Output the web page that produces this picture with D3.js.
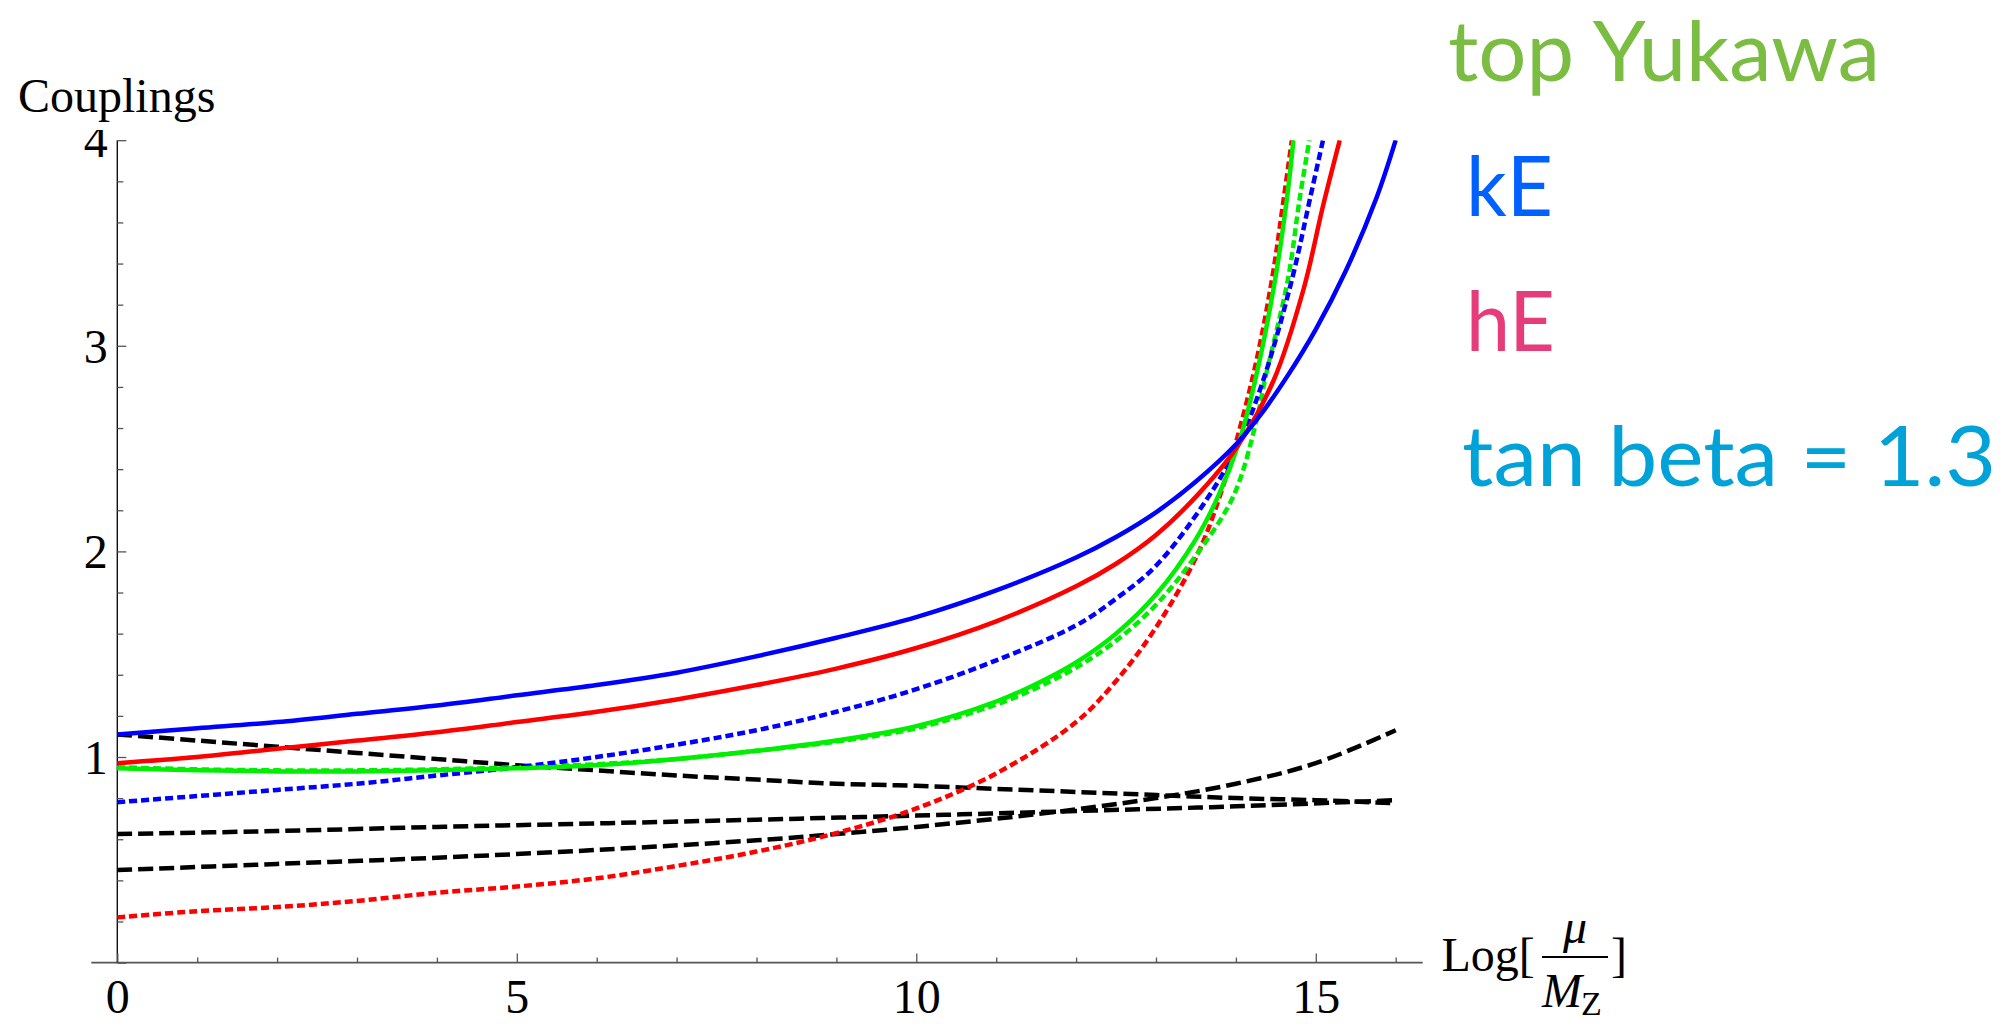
<!DOCTYPE html>
<html>
<head>
<meta charset="utf-8">
<script src="https://cdn.jsdelivr.net/npm/d3@7"></script>
<style>
  html, body { margin: 0; padding: 0; background: #fff; }
  svg { display: block; }
</style>
</head>
<body>
<svg id="chart" width="2009" height="1024"></svg>
<script>
// ---------------- data ----------------
const xTickLabels = [0, 5, 10, 15];
const yTickLabels = [1, 2, 3, 4];
const xMinorTicks = d3.range(0, 17, 1);
const yMinorTicks = d3.range(0, 4.01, 0.2).map(v => +v.toFixed(1));

const blueSolid = [[0,1.11],[1,1.14],[2,1.17],[3,1.21],[4,1.25],[5,1.30],[6,1.35],[7,1.41],[8,1.49],[9,1.58],[10,1.68],[11,1.81],[12,1.97],[12.5,2.07],[13,2.19],[13.5,2.34],[14,2.52],[14.3,2.66],[14.64,2.85],[15,3.08],[15.37,3.36],[15.76,3.72],[16,4.0]];
const redSolid = [[0,0.97],[1,1.0],[2,1.04],[3,1.08],[4,1.12],[5,1.17],[6,1.22],[7,1.28],[8,1.35],[9,1.43],[10,1.53],[11,1.66],[12,1.83],[12.5,1.94],[13,2.08],[13.51,2.27],[14,2.50],[14.47,2.83],[14.85,3.28],[15.09,3.68],[15.30,4.0]];
const greenSolid = [[0,0.945],[1,0.935],[2,0.93],[3,0.93],[4,0.935],[5,0.945],[6,0.96],[7,0.99],[8,1.03],[9,1.08],[10,1.15],[11,1.27],[11.5,1.355],[12,1.46],[12.5,1.60],[13,1.79],[13.5,2.06],[13.78,2.27],[14.03,2.52],[14.24,2.83],[14.49,3.32],[14.64,3.72],[14.72,4.0]];
const greenDotted = [[0,0.95],[1,0.94],[2,0.935],[3,0.935],[4,0.94],[5,0.95],[6,0.965],[7,0.99],[8,1.03],[9,1.075],[10,1.14],[11,1.255],[11.5,1.335],[12,1.435],[12.5,1.565],[13,1.74],[13.5,1.98],[13.97,2.27],[14.26,2.64],[14.36,2.83],[14.65,3.32],[14.80,3.72],[14.92,4.0]];
const blueDotted = [[0,0.78],[1,0.81],[2,0.84],[3,0.87],[4,0.91],[5,0.95],[6,1.0],[7,1.06],[8,1.13],[9,1.22],[10,1.33],[11,1.47],[12,1.64],[12.5,1.77],[13,1.93],[13.63,2.25],[14.03,2.52],[14.34,2.83],[14.70,3.32],[14.93,3.72],[15.09,4.0]];
const redDotted = [[0,0.22],[1,0.25],[2,0.27],[3,0.30],[4,0.34],[5,0.37],[6,0.41],[7,0.47],[8,0.54],[9,0.63],[10,0.75],[11,0.92],[12,1.17],[12.5,1.37],[13,1.63],[13.5,1.97],[13.8,2.27],[14.2,2.83],[14.45,3.32],[14.60,3.72],[14.70,4.0]];
const blackFalling = [[0,1.11],[1,1.08],[2,1.05],[3,1.02],[4,0.99],[5,0.96],[6,0.935],[7,0.91],[8,0.89],[9,0.87],[10,0.86],[11,0.845],[12,0.83],[13,0.815],[14,0.80],[15,0.79],[16,0.775]];
const blackRisingA = [[0,0.625],[2,0.64],[4,0.66],[6,0.677],[8,0.695],[10,0.715],[12,0.737],[14,0.76],[16,0.79]];
const blackRisingB = [[0,0.45],[2,0.48],[4,0.51],[6,0.548],[8,0.595],[9,0.625],[10,0.66],[11,0.70],[12,0.745],[13,0.80],[14,0.87],[15,0.97],[16,1.13]];

const seriesList = [
  {data: blackFalling, color: "#000000", dash: "15,6"},
  {data: blackRisingA, color: "#000000", dash: "15,6"},
  {data: blackRisingB, color: "#000000", dash: "15,6"},
  {data: redDotted,   color: "#ff0000", dash: "8,4"},
  {data: greenDotted, color: "#00ee00", dash: "8,4"},
  {data: blueDotted,  color: "#0000ff", dash: "8,4"},
  {data: greenSolid,  color: "#00ee00", dash: null},
  {data: redSolid,    color: "#ff0000", dash: null},
  {data: blueSolid,   color: "#0000ff", dash: null}
];

const legendTexts = ["top Yukawa", "kE", "hE", "tan beta = 1.3"];
const legendColors = ["#7bbd42", "#0061ff", "#e63c7a", "#00a2d8"];

// ---------------- layout ----------------
const svg = d3.select("#chart");
svg.append("rect").attr("width", 2009).attr("height", 1024).attr("fill", "#fff");

const x = d3.scaleLinear().domain([0, 16]).range([117.3, 117.3 + 16 * 79.9]);
const y = d3.scaleLinear().domain([0, 4]).range([962.6, 140.2]);

const defs = svg.append("defs");
defs.append("clipPath").attr("id", "plotclip")
  .append("rect").attr("x", x(0) - 5).attr("y", y(4)).attr("width", x(16) - x(0) + 20).attr("height", y(0) - y(4) + 5);
defs.append("clipPath").attr("id", "labelclip")
  .append("rect").attr("x", 0).attr("y", 130).attr("width", 300).attr("height", 900);

const serif = "'Liberation Serif', 'Times New Roman', serif";

// x axis line
svg.append("line")
  .attr("x1", x(0) - 26).attr("x2", x(16) + 27)
  .attr("y1", y(0)).attr("y2", y(0))
  .attr("stroke", "#555").attr("stroke-width", 1.8);

// y axis line
svg.append("line")
  .attr("x1", x(0)).attr("x2", x(0))
  .attr("y1", y(4)).attr("y2", y(0))
  .attr("stroke", "#111").attr("stroke-width", 1.4);

// x ticks (minor + major) pointing up
const xMinorAxis = d3.axisBottom(x).tickValues(xMinorTicks.filter(v => v % 5 !== 0)).tickSizeInner(-5).tickSizeOuter(0).tickFormat("");
const gxMinor = svg.append("g").attr("transform", `translate(0,${y(0)})`).call(xMinorAxis);
gxMinor.select(".domain").remove();
gxMinor.selectAll(".tick line").attr("stroke", "#555").attr("stroke-width", 1.3);

const xMajorAxis = d3.axisBottom(x).tickValues(xTickLabels).tickSizeInner(-9).tickSizeOuter(0).tickPadding(16).tickFormat(d3.format("d"));
const gxMajor = svg.append("g").attr("transform", `translate(0,${y(0)})`).call(xMajorAxis);
gxMajor.select(".domain").remove();
gxMajor.selectAll(".tick line").attr("stroke", "#555").attr("stroke-width", 1.3);
gxMajor.selectAll(".tick text").attr("font-family", serif).attr("font-size", 48).attr("fill", "#000");

// y ticks pointing right
const yMinorAxis = d3.axisLeft(y).tickValues(yMinorTicks.filter(v => Math.abs(v - Math.round(v)) > 1e-6)).tickSizeInner(-6).tickSizeOuter(0).tickFormat("");
const gyMinor = svg.append("g").attr("transform", `translate(${x(0)},0)`).call(yMinorAxis);
gyMinor.select(".domain").remove();
gyMinor.selectAll(".tick line").attr("stroke", "#555").attr("stroke-width", 1.3);

const yMajorAxis = d3.axisLeft(y).tickValues([0].concat(yTickLabels)).tickSizeInner(-9).tickSizeOuter(0).tickPadding(9.5)
  .tickFormat(d => d === 0 ? "" : d3.format("d")(d));
const gyWrap = svg.append("g").attr("clip-path", "url(#labelclip)");
const gyMajor = gyWrap.append("g").attr("transform", `translate(${x(0)},0)`).call(yMajorAxis);
gyMajor.select(".domain").remove();
gyMajor.selectAll(".tick line").attr("stroke", "#555").attr("stroke-width", 1.3);
gyMajor.selectAll(".tick text").attr("font-family", serif).attr("font-size", 48).attr("fill", "#000").attr("dy", "0.34em");

// axis titles
svg.append("text").attr("x", 18).attr("y", 111.5)
  .attr("font-family", serif).attr("font-size", 48).attr("fill", "#000").text("Couplings");

const xl = svg.append("g").attr("font-family", serif).attr("fill", "#000");
xl.append("text").attr("x", 1441.5).attr("y", 970.5).attr("font-size", 48).text("Log[");
xl.append("text").attr("x", 1575).attr("y", 943).attr("font-size", 48).attr("font-style", "italic").attr("text-anchor", "middle").text("μ");
xl.append("line").attr("x1", 1542).attr("x2", 1608).attr("y1", 957).attr("y2", 957).attr("stroke", "#000").attr("stroke-width", 2);
xl.append("text").attr("x", 1542).attr("y", 1006.5).attr("font-size", 48).attr("font-style", "italic").text("M");
xl.append("text").attr("x", 1581).attr("y", 1015).attr("font-size", 34).text("Z");
xl.append("text").attr("x", 1611).attr("y", 970.5).attr("font-size", 48).text("]");

// curves
const line = d3.line().x(d => x(d[0])).y(d => y(d[1])).curve(d3.curveCatmullRom.alpha(0.5));
const gCurves = svg.append("g").attr("clip-path", "url(#plotclip)");
seriesList.forEach(s => {
  const p = gCurves.append("path")
    .attr("d", line(s.data))
    .attr("fill", "none")
    .attr("stroke", s.color)
    .attr("stroke-width", 4.5)
    .attr("stroke-linejoin", "round");
  if (s.dash) p.attr("stroke-dasharray", s.dash);
});

// legend-like annotations
const legendX = [1448, 1466, 1466, 1462];
const legendY = [81, 216, 351, 486];
const legendW = [432, 87, 89, 534];
legendTexts.forEach((t, i) => {
  svg.append("text")
    .attr("x", legendX[i]).attr("y", legendY[i])
    .attr("font-family", "Lato, 'Open Sans', sans-serif")
    .attr("font-size", 84)
    .attr("fill", legendColors[i])
    .attr("textLength", legendW[i])
    .attr("lengthAdjust", "spacingAndGlyphs")
    .text(t);
});
</script>
</body>
</html>
